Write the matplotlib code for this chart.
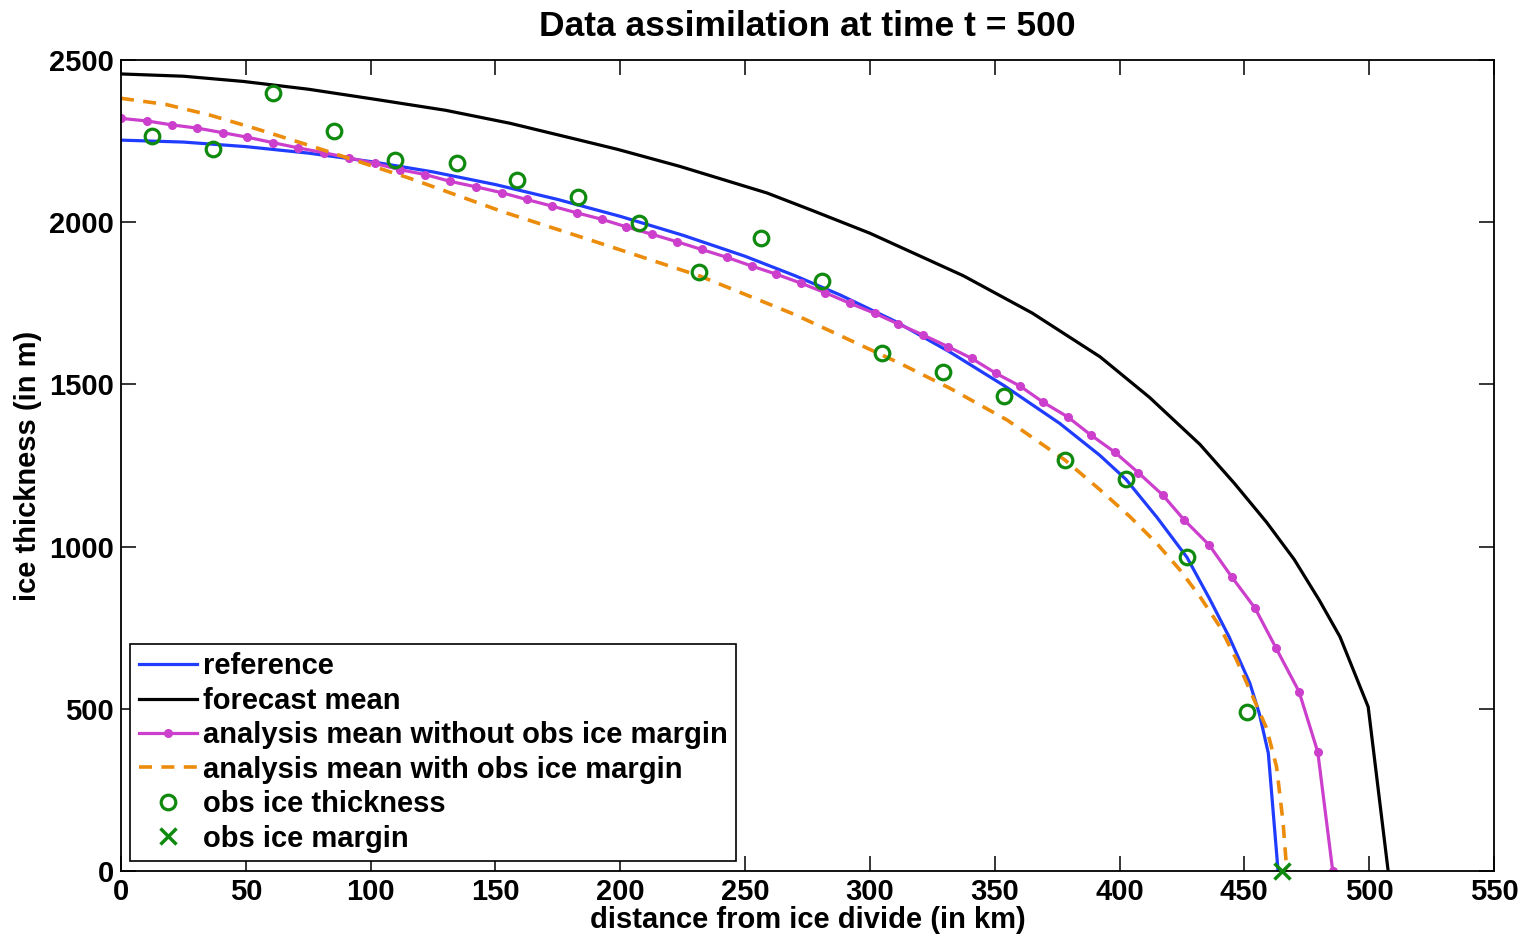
import matplotlib
matplotlib.use("Agg")
import matplotlib.pyplot as plt

plt.rcParams['font.family'] = ['Liberation Sans', 'DejaVu Sans']
plt.rcParams['font.weight'] = 'bold'

# ---- data (km, m) ----
ref_x = [0, 25, 50, 75, 100, 125, 150, 175, 200, 225, 250, 270, 288, 310, 332, 354, 376,
         392, 402.6, 415, 427, 436, 444, 452.2, 456, 459.6, 463.5]
ref_y = [2253, 2247, 2233, 2213, 2187, 2155, 2116, 2070, 2018, 1960, 1895, 1835, 1776, 1695, 1600, 1495, 1380,
         1282, 1207, 1090, 967, 840, 720, 579, 485, 363, 0]

fc_x = [0, 25, 48.9, 75, 102.5, 130, 155.8, 180, 198.7, 223.9, 258.8, 277.3, 300, 337.4, 365,
        392.2, 412, 432.2, 446, 458.9, 470, 480, 488.3, 499.6, 507.6]
fc_y = [2457, 2450, 2434, 2410, 2378, 2345, 2305, 2260, 2225, 2172, 2090, 2035, 1966, 1835, 1720,
        1585, 1460, 1315, 1195, 1075, 960, 835, 722, 506, 0]

an1_x = [0, 10.5, 20.3, 30.6, 40.7, 50.6, 61.0, 71.0, 81.4, 91.5,
         101.7, 111.8, 121.8, 131.8, 142.2, 152.5, 162.5, 172.5, 182.5, 192.6,
         202.3, 212.6, 222.6, 232.6, 242.6, 252.6, 262.4, 272.4, 282.0, 292.0,
         302.0, 311.4, 321.4, 331.4, 340.8, 350.5, 360.1, 369.4, 379.2, 388.5,
         398.1, 407.5, 417.3, 425.9, 435.9, 444.9, 454.3, 462.7, 471.9, 479.4, 485.4]
an1_y = [2320, 2312, 2300, 2290, 2276, 2262, 2245, 2229, 2214, 2198,
         2181, 2162, 2147, 2126, 2109, 2091, 2070, 2050, 2029, 2009,
         1986, 1963, 1940, 1916, 1892, 1865, 1840, 1812, 1783, 1750,
         1719, 1686, 1652, 1616, 1580, 1534, 1495, 1445, 1400, 1344,
         1291, 1228, 1159, 1082, 1005, 907, 810, 687, 553, 367, 0]

an2_x = [0, 18, 35.7, 55, 75.7, 115.8, 153, 190, 231.9, 270, 312, 332.1, 355, 378.1,
         392.2, 404.2, 414.9, 424.2, 432.2, 440.2, 446.9, 452.2, 458.9, 462.9, 465.5, 467]
an2_y = [2382, 2363, 2330, 2286, 2236, 2135, 2032, 1940, 1834, 1715, 1565, 1488, 1390, 1267,
         1175, 1092, 1010, 928, 846, 753, 650, 558, 440, 321, 150, 0]

obs_x = [12.3, 36.7, 61.0, 85.4, 109.8, 134.5, 158.8, 182.9, 207.6, 231.7,
         256.4, 280.7, 304.8, 329.3, 353.7, 378.1, 402.6, 427.0, 451.1]
obs_y = [2267, 2226, 2397, 2282, 2192, 2183, 2130, 2079, 1997, 1847,
         1950, 1820, 1597, 1538, 1464, 1267, 1208, 968, 490]

margin_x = [465]
margin_y = [0]

xticks = [0, 50, 100, 150, 200, 250, 300, 350, 400, 450, 500, 550]
yticks = [0, 500, 1000, 1500, 2000, 2500]

# ---- figure ----
fig = plt.figure(figsize=(15.3, 9.38), dpi=100)
ax = fig.add_axes([121/1530, 1-871/938, 1373/1530, 811/938])

blue = '#1f3cff'
mag = '#cc3fcc'
orng = '#ec8c0c'
grn = '#0f8a0f'

ax.plot(ref_x, ref_y, color=blue, lw=2.3, label='reference')
ax.plot(fc_x, fc_y, color='black', lw=2.3, label='forecast mean')
ax.plot(an1_x, an1_y, color=mag, lw=2.3, marker='o', ms=5.5, mec=mag, mfc=mag,
        label='analysis mean without obs ice margin')
ax.plot(an2_x, an2_y, color=orng, lw=2.6, dashes=(3.6, 2.6),
        label='analysis mean with obs ice margin')
ax.plot(obs_x, obs_y, ls='none', marker='o', ms=10.5, mfc='none', mec=grn, mew=2.3,
        label='obs ice thickness')
ax.plot(margin_x, margin_y, ls='none', marker='x', ms=12, mec=grn, mew=2.5,
        label='obs ice margin', clip_on=False, zorder=5)

ax.set_xlim(0, 550)
ax.set_ylim(0, 2500)
ax.set_xticks(xticks)
ax.set_yticks(yticks)
ax.tick_params(direction='in', length=11, width=1.1, top=True, right=True,
               labelsize=21, pad=5)
for lab in ax.get_xticklabels() + ax.get_yticklabels():
    lab.set_fontweight('bold')
for s in ax.spines.values():
    s.set_linewidth(1.3)

ax.set_title('Data assimilation at time t = 500', fontsize=25.5, fontweight='bold', pad=17)
ax.set_xlabel('distance from ice divide (in km)', fontsize=21, fontweight='bold', labelpad=0)
ax.set_ylabel('ice thickness (in m)', fontsize=21, fontweight='bold', labelpad=5)

leg = ax.legend(loc='lower left', bbox_to_anchor=(0.0066, 0.012), fontsize=21,
                frameon=True, fancybox=False, edgecolor='black', framealpha=1,
                borderpad=0.3, labelspacing=0.22, handlelength=2.0, handletextpad=0.2,
                borderaxespad=0, numpoints=1)
leg.get_frame().set_linewidth(1.2)
for t in leg.get_texts():
    t.set_fontweight('bold')

fig.savefig('out.png', dpi=100)
